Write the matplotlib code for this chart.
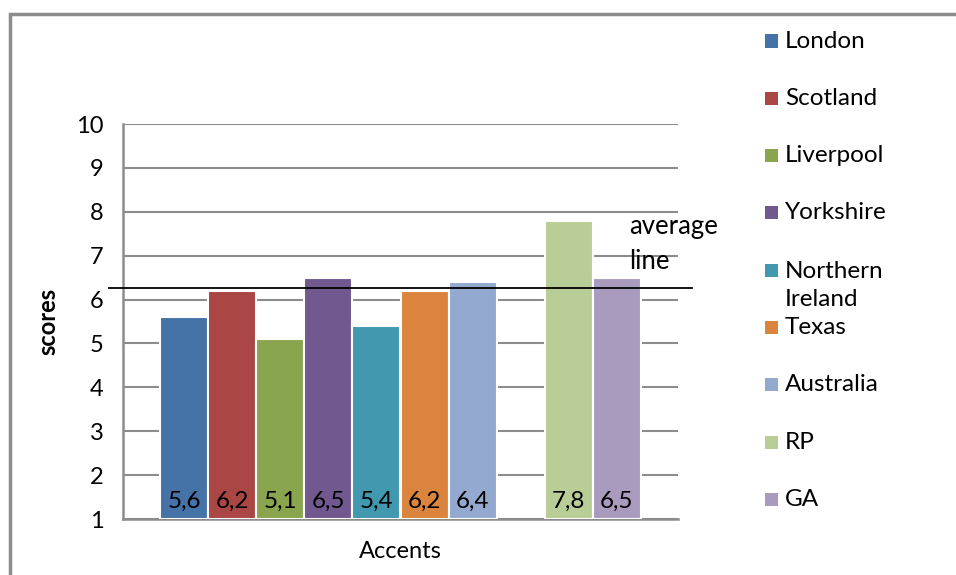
import matplotlib.pyplot as plt
import matplotlib.patches as mpatches
import numpy as np

plt.rcParams['font.family'] = ['Lato', 'DejaVu Sans']

accents = ["London", "Scotland", "Liverpool", "Yorkshire", "Northern\nIreland",
           "Texas", "Australia", "RP", "GA"]
scores = [5.6, 6.2, 5.1, 6.5, 5.4, 6.2, 6.4, 7.8, 6.5]
labels = ["5,6", "6,2", "5,1", "6,5", "5,4", "6,2", "6,4", "7,8", "6,5"]
colors = ["#4572A7", "#AA4643", "#89A54E", "#71588F", "#4198AF",
          "#DB843D", "#93A9CF", "#B9CD96", "#A99BBD"]
average = 6.27
yticks = list(range(1, 11))

W, H = 956, 575
fig = plt.figure(figsize=(W / 100, H / 100), dpi=100)

# outer chart frame (cut off at right / bottom)
fig.patches.append(mpatches.Rectangle((10 / W, -0.1), 1.2, 1 - 14 / H + 0.1,
                                      transform=fig.transFigure, fill=False,
                                      edgecolor="#8c8c8c", linewidth=2.5))

ax = fig.add_axes([123 / W, 1 - 519 / H, (678 - 123) / W, (519 - 124) / H])

# gap between Australia and RP
pos = np.array([0, 1, 2, 3, 4, 5, 6, 8, 9])
bars = ax.bar(pos, np.array(scores) - 1, bottom=1, width=1.0, color=colors,
              edgecolor="white", linewidth=1.5, zorder=3)
for b, lab in zip(bars, labels):
    ax.text(b.get_x() + b.get_width() / 2, 1.17, lab, ha="center", va="bottom",
            fontsize=17.5, color="black", zorder=4)

ax.set_xlim(-1.27, 10.27)
ax.set_ylim(1, 10)
ax.set_yticks(yticks)
ax.tick_params(axis="y", length=0, labelsize=17, pad=14)
ax.set_xticks([])
ax.yaxis.grid(True, color="#8c8c8c", linewidth=1.5, zorder=0)
for s in ["top", "right"]:
    ax.spines[s].set_visible(False)
for s in ["left", "bottom"]:
    ax.spines[s].set_color("#8c8c8c")
    ax.spines[s].set_linewidth(1.8)

ax.set_ylabel("scores", fontsize=17, fontweight="bold", labelpad=12)
ax.set_xlabel("Accents", fontsize=17, labelpad=16)

# average line, extends past the plot area
ax.plot([-0.025, 1.025], [average, average], color="black", linewidth=1.3,
        transform=ax.get_yaxis_transform(), clip_on=False, zorder=5)
fig.text(629 / W, 1 - 244 / H, "average\nline", fontsize=18.5,
         ha="left", va="center", linespacing=1.5)

# legend
for i, (name, c) in enumerate(zip(accents, colors)):
    yc = 41 + i * 57.3
    fig.patches.append(mpatches.Rectangle((765 / W, 1 - (yc + 6.5) / H),
                                          13 / W, 13 / H, transform=fig.transFigure,
                                          facecolor=c, edgecolor="none"))
    if "\n" in name:
        fig.text(785 / W, 1 - (yc - 9) / H, name, fontsize=17.5, va="top",
                 ha="left", linespacing=1.4)
    else:
        fig.text(785 / W, 1 - yc / H, name, fontsize=17.5, va="center", ha="left")

fig.savefig("out.png", dpi=100)
